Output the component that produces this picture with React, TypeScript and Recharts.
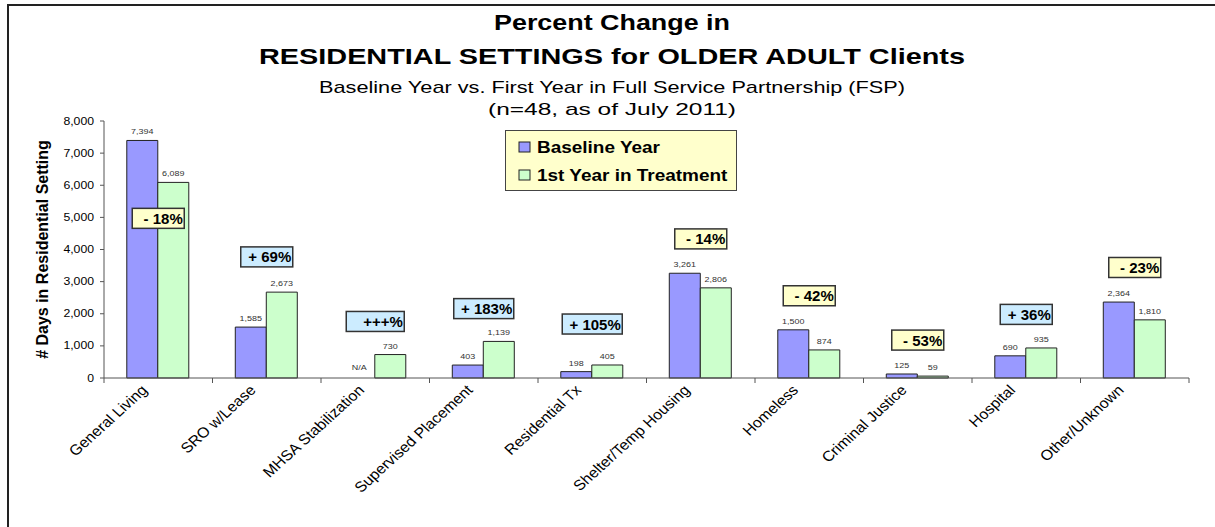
import React from 'react';
import { BarChart, Bar, XAxis, YAxis, LabelList, ReferenceDot } from 'recharts';

const categories = [
  'General Living', 'SRO w/Lease', 'MHSA Stabilization', 'Supervised Placement', 'Residential Tx',
  'Shelter/Temp Housing', 'Homeless', 'Criminal Justice', 'Hospital', 'Other/Unknown',
];
const baselineYear = [7394, 1585, null, 403, 198, 3261, 1500, 125, 690, 2364];
const firstYear = [6089, 2673, 730, 1139, 405, 2806, 874, 59, 935, 1810];
const pctLabels = ['- 18%', '+ 69%', '+++%', '+ 183%', '+ 105%', '- 14%', '- 42%', '- 53%', '+ 36%', '- 23%'];
const pctAnchor = [4970, 3770, 1760, 2160, 1680, 4330, 2560, 1180, 1980, 3440];
const yTicks = [0, 1000, 2000, 3000, 4000, 5000, 6000, 7000, 8000];

const fmt = (v: number) => v.toLocaleString('en-US');

const data = categories.map((name, i) => ({
  name,
  baseline: baselineYear[i],
  baselineText: baselineYear[i] == null ? '' : fmt(baselineYear[i] as number),
  naText: baselineYear[i] == null ? 'N/A' : '',
  first: firstYear[i],
  firstText: fmt(firstYear[i]),
  pct: pctLabels[i],
  anchor: pctAnchor[i],
}));

const FONT = '"Liberation Sans", Arial, sans-serif';
const SX = 1.1;

const XTick = (props: any) => {
  const { x, y, payload, index, width } = props;
  const band = width / categories.length;
  const axisY = y;
  return (
    <g>
      <line x1={x - band / 2} x2={x - band / 2} y1={axisY} y2={axisY + 5} stroke="#555" />
      {index === categories.length - 1 && (
        <line x1={x + band / 2} x2={x + band / 2} y1={axisY} y2={axisY + 5} stroke="#555" />
      )}
      <g transform={`translate(${x - 10} ${y + 13}) scale(${SX} 1) rotate(-45)`}>
        <text x={0} y={0} textAnchor="end" fontSize={14.5} fontFamily={FONT} fill="#000">
          {payload.value}
        </text>
      </g>
    </g>
  );
};

const YTick = (props: any) => {
  const { x, y, payload } = props;
  return (
    <g transform={`translate(${x} ${y + 3.5}) scale(1.2 1)`}>
      <text x={0} y={0} textAnchor="end" fontSize={10.2} fontFamily={FONT} fill="#000">
        {fmt(payload.value)}
      </text>
    </g>
  );
};

const ValueLabel = (props: any) => {
  const { x, y, width, value } = props;
  if (!value) return null;
  const cx = x + width / 2;
  return (
    <g transform={`translate(${cx} ${y - 6}) scale(1.12 1)`}>
      <text x={0} y={0} textAnchor="middle" fontSize={8} fontFamily={FONT} fill="#333">
        {value}
      </text>
    </g>
  );
};

// "N/A" marker drawn in the (empty) baseline slot, left of the green bar
const NALabel = (props: any) => {
  const { x, y, width, height, value } = props;
  if (!value) return null;
  const cx = x - width / 2;
  const bottom = y + height;
  return (
    <g transform={`translate(${cx} ${bottom - 8}) scale(1.12 1)`}>
      <text x={0} y={0} textAnchor="middle" fontSize={8} fontFamily={FONT} fill="#333">
        {value}
      </text>
    </g>
  );
};

const PctBox = (props: any) => {
  const { viewBox, text } = props;
  const cx = viewBox.x;
  const cy = viewBox.y;
  const up = text.startsWith('+');
  const w = text.length >= 6 ? 60 : text.length === 4 ? 58 : 52;
  const h = 20;
  return (
    <g>
      <rect x={cx - w / 2} y={cy - h / 2} width={w} height={h} fill={up ? '#CCECFF' : '#FFFFCC'} stroke="#333" strokeWidth={1.5} />
      <text x={cx + w / 2 - 1.5} y={cy + 5.5} textAnchor="end" fontSize={15} fontWeight="bold" fontFamily={FONT} fill="#000">
        {text}
      </text>
    </g>
  );
};

const titleLines = [
  { text: 'Percent Change in', y: 30, size: 22, bold: true, len: 236 },
  { text: 'RESIDENTIAL SETTINGS for OLDER ADULT Clients', y: 64, size: 22, bold: true, len: 706 },
  { text: 'Baseline Year vs. First Year in Full Service Partnership (FSP)', y: 93, size: 17, bold: false, len: 586 },
  { text: '(n=48, as of July 2011)', y: 115, size: 17, bold: false, len: 248 },
];

export default function App() {
  return (
    <div style={{ position: 'absolute', left: 0, top: 0, width: 1215, height: 527, overflow: 'hidden', background: '#fff', fontFamily: FONT }}>
      <div style={{ position: 'absolute', left: 7, top: 4, width: 1240, height: 560, border: '2px solid #222', boxSizing: 'border-box' }} />
      <svg width={1215} height={130} style={{ position: 'absolute', left: 0, top: 0 }}>
        {titleLines.map((t) => (
          <text
            key={t.text}
            x={612 - t.len / 2}
            y={t.y}
            textLength={t.len}
            lengthAdjust="spacingAndGlyphs"
            fontSize={t.size}
            fontWeight={t.bold ? 'bold' : 'normal'}
            fontFamily={FONT}
            fill="#000"
          >
            {t.text}
          </text>
        ))}
      </svg>
      <BarChart
        width={1215}
        height={527}
        data={data}
        margin={{ top: 121, right: 26, bottom: 29, left: 44 }}
        barCategoryGap="21%"
        barGap={0}
        style={{ position: 'absolute', left: 0, top: 0 }}
      >
        <XAxis
          dataKey="name"
          height={120}
          interval={0}
          tickLine={false}
          axisLine={{ stroke: '#555' }}
          tick={<XTick />}
          tickMargin={0}
          tickSize={0}
        />
        <YAxis
          width={60}
          domain={[0, 8000]}
          ticks={yTicks}
          interval={0}
          axisLine={{ stroke: '#555' }}
          tickLine={{ stroke: '#555' }}
          tickSize={4}
          tickMargin={6}
          tick={<YTick />}
          label={{
            content: (p: any) => {
              const vb = p.viewBox;
              const cy = vb.y + vb.height / 2;
              return (
                <text x={48} y={cy} transform={`rotate(-90 48 ${cy})`} textAnchor="middle" fontSize={16} fontWeight="bold" fontFamily={FONT} fill="#000">
                  # Days in Residential Setting
                </text>
              );
            },
          }}
        />
        <Bar dataKey="baseline" fill="#9999FF" stroke="#222" strokeWidth={1} isAnimationActive={false}>
          <LabelList dataKey="baselineText" content={<ValueLabel />} />
        </Bar>
        <Bar dataKey="first" fill="#CCFFCC" stroke="#222" strokeWidth={1} isAnimationActive={false}>
          <LabelList dataKey="firstText" content={<ValueLabel />} />
          <LabelList dataKey="naText" content={<NALabel />} />
        </Bar>
        {data.map((d) => (
          <ReferenceDot
            key={d.name}
            x={d.name}
            y={d.anchor}
            r={0}
            fill="none"
            stroke="none"
            label={(p: any) => <PctBox {...p} text={d.pct} />}
          />
        ))}
      </BarChart>
      <div style={{ position: 'absolute', left: 505, top: 130, width: 232, height: 61, boxSizing: 'border-box', background: '#FFFFCC', border: '1.5px solid #444' }}>
        <svg width={232} height={61} style={{ position: 'absolute', left: -1.5, top: -1.5 }}>
          <rect x={14} y={12} width={11} height={10} fill="#9999FF" stroke="#222" strokeWidth={1} />
          <rect x={14} y={40} width={11} height={10} fill="#CCFFCC" stroke="#222" strokeWidth={1} />
          <g transform="translate(32 23) scale(1.15 1)">
            <text x={0} y={0} fontSize={16.5} fontWeight="bold" fontFamily={FONT} fill="#000">Baseline Year</text>
          </g>
          <g transform="translate(32 51) scale(1.15 1)">
            <text x={0} y={0} fontSize={16.5} fontWeight="bold" fontFamily={FONT} fill="#000">1st Year in Treatment</text>
          </g>
        </svg>
      </div>
    </div>
  );
}
